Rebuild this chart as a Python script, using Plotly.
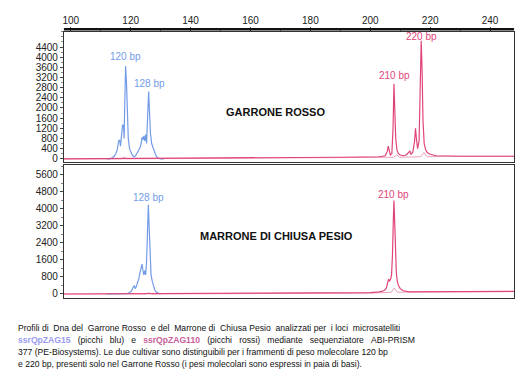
import plotly.graph_objects as go

# ---------------- data ----------------
x_ticks = [100, 120, 140, 160, 180, 200, 220, 240]
top_y_ticks = [0, 400, 800, 1200, 1600, 2000, 2400, 2800, 3200, 3600, 4000, 4400]
bot_y_ticks = [0, 800, 1600, 2400, 3200, 4000, 4800, 5600]

# Garrone Rosso - blue (ssrQpZAG15)
gr_blue_x = [112, 113, 114, 114.5, 115, 115.5, 116, 116.3, 116.6, 117, 117.3, 117.6, 117.8, 118,
             118.3, 118.6, 118.9, 119.2, 119.6, 120, 120.5, 121, 121.5, 122, 122.5, 123, 123.5,
             123.8, 124.1, 124.4, 124.7, 125, 125.3, 125.7, 126, 126.3, 126.6, 127, 127.5, 128,
             128.5, 129, 130, 131]
gr_blue_y = [0, 0, 50, 100, 200, 350, 700, 750, 500, 1000, 1350, 1300, 800, 2000,
             3650, 3000, 1500, 800, 400, 250, 150, 80, 100, 200, 300, 400, 600,
             850, 750, 900, 700, 950, 600, 1500, 2650, 1800, 1000, 600, 400, 200,
             100, 40, 0, 0]

# Garrone Rosso - red (ssrQpZAG110)
gr_red_x = [97.7, 150, 190, 203, 205, 205.7, 206, 206.3, 206.7, 207.2, 207.6, 207.9, 208.2, 208.5,
            208.9, 209.4, 210, 211, 212, 212.8, 213.2, 213.6, 214.2, 214.8, 215.1, 215.4, 215.8,
            216.3, 216.7, 217, 217.3, 217.6, 218, 218.5, 219, 220, 222, 230, 248]
gr_red_y = [0, 20, 60, 80, 120, 300, 500, 350, 150, 200, 1200, 2950, 2000, 800,
            350, 200, 150, 120, 150, 250, 300, 180, 250, 700, 1200, 800, 400,
            700, 2500, 4650, 3500, 1500, 600, 350, 250, 180, 120, 100, 100]

# Garrone Rosso - faint pink companion trace
gr_pink_x = [97.7, 117, 117.8, 118.6, 140, 200, 207.8, 208.8, 209.8, 216.8, 217.9, 219, 225, 248]
gr_pink_y = [0, 0, 60, 0, 10, 40, 60, 150, 60, 80, 250, 80, 100, 100]

# Marrone di Chiusa Pesio - blue
mc_blue_x = [112, 118, 119, 119.8, 120.3, 120.8, 121.2, 121.5, 121.9, 122.3, 122.7, 123.1, 123.5,
             123.8, 124.1, 124.4, 124.7, 125, 125.3, 125.6, 125.9, 126.2, 126.5, 126.8, 127.2,
             127.6, 128, 128.5, 129, 130]
mc_blue_y = [0, 0, 30, 80, 150, 300, 400, 250, 350, 550, 700, 1000, 1200,
             1400, 1100, 900, 1100, 900, 1500, 3000, 4200, 3000, 1500, 900, 600,
             350, 200, 100, 50, 0]

# Marrone di Chiusa Pesio - red
mc_red_x = [97.7, 180, 200, 203, 204.5, 205.3, 205.8, 206.1, 206.4, 206.8, 207.1, 207.4, 207.7,
            207.9, 208.1, 208.4, 208.7, 209, 209.4, 210, 211, 213, 220, 248]
mc_red_y = [0, 30, 60, 100, 150, 250, 500, 700, 600, 700, 900, 1800, 3500,
            4400, 3600, 2000, 1000, 600, 400, 250, 150, 100, 110, 120]

# Marrone di Chiusa Pesio - faint pink companion
mc_pink_x = [97.7, 125, 126, 127, 200, 207, 208, 209, 215, 248]
mc_pink_y = [0, 0, 60, 0, 40, 80, 280, 80, 100, 110]

BLUE = "#739ce8"
RED = "#e0457a"
PINK = "#eba3b3"

fig = go.Figure()

def add(x, y, color, xa, ya, width=1.2):
    fig.add_trace(go.Scatter(x=x, y=y, mode="lines", line=dict(color=color, width=width),
                             xaxis=xa, yaxis=ya, hoverinfo="skip", showlegend=False))

add(gr_pink_x, gr_pink_y, PINK, "x", "y", 1.0)
add(gr_blue_x, gr_blue_y, BLUE, "x", "y")
add(gr_red_x, gr_red_y, RED, "x", "y")
add(mc_pink_x, mc_pink_y, PINK, "x2", "y2", 1.0)
add(mc_blue_x, mc_blue_y, BLUE, "x2", "y2")
add(mc_red_x, mc_red_y, RED, "x2", "y2")

W, H = 527, 374
def px(v): return v / W
def py(v): return 1 - v / H

xr = [97.7, 248]
FONT = "Liberation Sans, Arial, sans-serif"
axis_common = dict(showline=True, linecolor="#333", linewidth=1, mirror=True,
                   showgrid=False, zeroline=False)

fig.update_layout(
    width=W, height=H, margin=dict(l=0, r=0, t=0, b=0),
    paper_bgcolor="white", plot_bgcolor="white",
    font=dict(family=FONT, size=10, color="#222"),
    xaxis=dict(domain=[px(55), px(506)], range=xr, anchor="y", side="top",
               tickvals=x_ticks, ticks="outside", ticklen=4, tickcolor="#444",
               showticklabels=False,
               minor=dict(dtick=10, ticks="outside", ticklen=2, tickcolor="#777"),
               **axis_common),
    xaxis3=dict(domain=[px(55), px(506)], range=xr, overlaying="x", anchor="free",
                position=py(18), side="top", tickvals=x_ticks, ticks="",
                showline=False, showgrid=False, zeroline=False, tickfont=dict(size=10)),
    yaxis=dict(domain=[py(155), py(24)], range=[-117, 5000], anchor="x",
               tickvals=top_y_ticks, ticks="outside", ticklen=3, tickcolor="#444",
               minor=dict(dtick=200, ticks="outside", ticklen=2, tickcolor="#888"),
               tickfont=dict(size=10), **axis_common),
    xaxis2=dict(domain=[px(55), px(506)], range=xr, anchor="y2", showticklabels=False,
                ticks="", **axis_common),
    yaxis2=dict(domain=[py(292), py(158)], range=[-173, 6080], anchor="x2",
                tickvals=bot_y_ticks, ticks="outside", ticklen=3, tickcolor="#444",
                minor=dict(dtick=400, ticks="outside", ticklen=2, tickcolor="#888"),
                tickfont=dict(size=10), **axis_common),
    shapes=[dict(type="line", xref="paper", yref="paper", x0=px(55), x1=px(506),
                 y0=py(21.5), y1=py(21.5), line=dict(color="#111", width=2.5))],
)

# invisible trace to activate the label-only top axis
fig.add_trace(go.Scatter(x=[xr[0]], y=[0], xaxis="x3", yaxis="y", mode="markers",
                         marker=dict(opacity=0), hoverinfo="skip", showlegend=False))

ann = []
def lab(text, x, y, color, xref="x", yref="y", size=10, bold=False):
    t = f"<b>{text}</b>" if bold else text
    ann.append(dict(text=t, x=x, y=y, xref=xref, yref=yref, showarrow=False,
                    font=dict(size=size, color=color, family=FONT), yanchor="bottom"))

lab("120 bp", 118.2, 3730, BLUE)
lab("128 bp", 126.2, 2660, BLUE)
lab("210 bp", 208.0, 2980, RED)
lab("220 bp", 217.0, 4530, RED)
lab("128 bp", 126.0, 4180, BLUE, "x2", "y2")
lab("210 bp", 207.9, 4340, RED, "x2", "y2")

ann.append(dict(text="<b>GARRONE ROSSO</b>", x=px(267), y=py(97), xref="paper", yref="paper",
                showarrow=False, font=dict(size=11, color="#111", family=FONT)))
ann.append(dict(text="<b>MARRONE DI CHIUSA PESIO</b>", x=px(268), y=py(230), xref="paper",
                yref="paper", showarrow=False, font=dict(size=11, color="#111", family=FONT)))

def justify(words, extra_every):
    out = words[0]
    for i, w in enumerate(words[1:], start=1):
        sep = " \u00a0" if (extra_every and i % extra_every == 0) else " "
        out += sep + w
    return out

S = " \u00a0\u00a0"  # widened space for justified line
caption = [
    justify("Profili di Dna del Garrone Rosso e del Marrone di Chiusa Pesio analizzati per i loci microsatelliti".split(" "), 2),
    S.join(["<b><span style='color:#9a9af0'>ssrQpZAG15</span></b>", "(picchi", "blu)", "e",
            "<b><span style='color:#c8609a'>ssrQpZAG110</span></b>", "(picchi", "rossi)",
            "mediante", "sequenziatore", "ABI-PRISM"]),
    "377 (PE-Biosystems). Le due cultivar sono distinguibili per i frammenti di peso molecolare 120 bp",
    "e 220 bp, presenti solo nel Garrone Rosso (i pesi molecolari sono espressi in paia di basi).",
]
for i, line in enumerate(caption):
    ann.append(dict(text=line, x=px(7), y=py(323 + 12 * i), xref="paper", yref="paper",
                    xanchor="left", yanchor="middle", showarrow=False,
                    font=dict(size=8.6, color="#111", family=FONT)))

fig.update_layout(annotations=ann)
fig.write_html("out.html")
